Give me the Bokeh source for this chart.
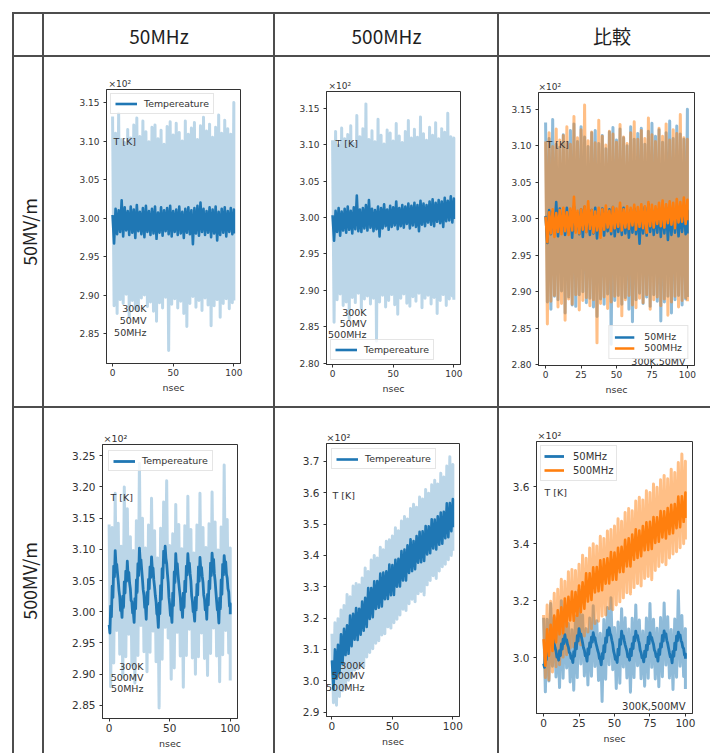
import numpy as np
from bokeh.plotting import figure
from bokeh.layouts import row, column
from bokeh.models import (Range1d, FixedTicker, PrintfTickFormatter, Label,
                          Legend, LegendItem, Spacer)
from bokeh.embed import file_html
from bokeh.resources import INLINE

# ---------------- table texts ----------------
COL_HEADERS = ["50MHz", "500MHz", "比較"]
ROW_HEADERS = ["50MV/m", "500MV/m"]

# ---------------- sample times (nsec) ----------------
NS = np.linspace(0, 100, 41)
NS_FINE = np.linspace(0, 100, 81)

# ---------------- data (temperature, K) ----------------
# A: 50MV/m, 50MHz    (raw = light band envelope, smooth = dark band envelope)
A_LIGHT_HI = [313.2, 311.0, 313.6, 310.2, 309.8, 311.5, 310.4, 312.1, 313.0, 310.6,
              312.6, 311.2, 309.9, 311.8, 312.1, 310.3, 311.4, 309.6, 311.9, 312.5,
              310.8, 312.3, 311.1, 310.0, 312.6, 310.9, 311.7, 312.4, 310.2, 312.0,
              313.1, 311.3, 312.2, 310.5, 311.8, 313.4, 311.0, 312.7, 311.6, 310.9,
              315.0]
A_LIGHT_LO = [288.6, 287.6, 289.4, 288.9, 290.1, 287.1, 289.3, 288.2, 288.0, 289.6,
              290.0, 288.5, 289.1, 287.9, 286.6, 289.0, 288.3, 289.7, 282.8, 288.8,
              289.5, 288.3, 289.2, 287.6, 285.9, 288.9, 289.8, 288.4, 289.3, 288.0,
              289.6, 288.7, 286.0, 288.6, 289.4, 287.1, 288.9, 289.5, 288.2, 289.0,
              289.3]
A_DARK_HI = [300.4, 301.2, 301.0, 302.3, 301.4, 300.9, 301.5, 301.1, 301.7, 300.8,
             301.3, 301.6, 300.9, 301.2, 301.5, 300.7, 301.4, 301.0, 301.3, 301.6,
             300.9, 301.1, 301.5, 300.8, 301.2, 301.4, 301.0, 301.3, 301.6, 302.0,
             301.2, 300.9, 301.4, 301.1, 301.5, 300.8, 301.2, 301.4, 300.9, 301.3,
             301.1]
A_DARK_LO = [296.7, 297.9, 298.2, 297.6, 298.4, 297.8, 298.1, 297.4, 298.3, 297.9,
             297.5, 298.2, 297.8, 298.0, 297.3, 298.1, 297.7, 298.3, 297.9, 297.6,
             298.2, 297.8, 298.0, 297.4, 298.1, 297.9, 296.6, 298.0, 297.7, 298.2,
             297.8, 298.1, 297.5, 298.0, 297.1, 297.8, 298.1, 297.6, 298.2, 297.9,
             298.0]

# B: 50MV/m, 500MHz
B_LIGHT_HI = [310.6, 311.8, 309.9, 312.3, 310.8, 311.4, 312.6, 310.2, 314.0, 311.1,
              312.2, 315.6, 310.7, 311.9, 310.4, 313.5, 311.3, 310.1, 312.0, 311.6,
              310.5, 312.9, 311.2, 310.3, 311.8, 313.3, 310.9, 312.1, 311.0, 313.8,
              311.5, 310.6, 312.4, 311.3, 313.0, 310.8, 312.2, 311.7, 314.3, 311.1,
              310.9]
B_LIGHT_LO = [285.6, 288.7, 289.5, 287.9, 288.4, 286.1, 289.0, 288.3, 289.6, 287.5,
              288.8, 289.2, 288.1, 288.9, 283.0, 288.4, 289.3, 287.7, 288.6, 289.4,
              288.0, 286.7, 288.9, 289.5, 288.2, 287.8, 289.1, 288.5, 289.6, 287.6,
              288.9, 289.3, 288.1, 289.0, 286.8, 288.6, 289.4, 287.9, 288.8, 289.2,
              288.7]
B_DARK_HI = [300.3, 300.9, 301.3, 300.8, 301.2, 301.5, 300.9, 301.4, 303.0, 301.1,
             301.3, 301.7, 302.4, 301.2, 301.0, 301.5, 301.3, 301.8, 301.1, 301.6,
             301.4, 302.2, 301.3, 301.7, 301.5, 301.9, 301.6, 302.0, 301.7, 302.3,
             301.9, 301.7, 302.2, 302.5, 302.0, 302.4, 302.2, 302.7, 302.3, 302.9,
             302.6]
B_DARK_LO = [296.8, 298.0, 297.5, 298.2, 297.9, 298.3, 297.8, 298.4, 298.1, 298.0,
             298.5, 298.2, 298.6, 298.1, 298.4, 297.4, 298.5, 298.8, 298.3, 298.7,
             298.9, 298.4, 298.8, 298.6, 299.1, 298.5, 298.9, 298.7, 298.1, 299.0,
             298.8, 299.3, 299.0, 298.8, 299.4, 299.2, 298.7, 299.5, 299.6, 299.3,
             299.8]

# C: 500MV/m, 50MHz
C_LIGHT_HI = [314.0, 313.5, 319.0, 314.2, 310.5, 320.0, 316.5, 312.0, 309.8, 314.6,
              323.8, 315.0, 310.2, 313.9, 318.2, 313.0, 308.6, 313.4, 317.6, 321.0,
              310.6, 312.5, 317.2, 314.0, 310.1, 313.8, 318.5, 313.2, 309.4, 313.9,
              319.0, 313.5, 310.3, 314.1, 319.2, 314.4, 309.9, 313.6, 323.5, 314.8,
              310.2]
C_LIGHT_LO = [288.0, 291.8, 297.0, 293.2, 289.5, 292.8, 296.4, 291.5, 288.6, 293.0,
              297.8, 293.6, 290.4, 293.5, 296.9, 292.0, 284.6, 292.4, 297.5, 295.8,
              289.2, 291.0, 296.7, 292.9, 287.9, 293.0, 297.2, 292.6, 290.0, 292.8,
              296.6, 292.5, 289.8, 293.3, 297.4, 292.9, 288.8, 293.1, 297.0, 293.4,
              289.0]
C_DARK_HI = [297.9, 300.9, 304.1, 307.3, 309.8, 307.6, 304.9, 302.4, 300.8, 302.5,
             304.8, 306.5, 308.1, 306.3, 303.7, 301.6, 299.9, 302.1, 305.1, 307.7,
             310.2, 308.3, 305.2, 302.6, 300.8, 303.1, 305.2, 307.2, 308.8, 307.0,
             304.0, 301.6, 299.4, 301.4, 304.2, 306.9, 309.7, 310.5, 307.8, 304.7,
             301.1, 299.7, 303.0, 306.4, 309.3, 307.7, 304.6, 302.3, 300.8, 303.0,
             304.9, 307.3, 309.3, 307.8, 304.9, 301.7, 299.9, 302.3, 304.4, 307.2,
             308.7, 307.1, 304.7, 302.0, 301.1, 302.8, 304.9, 307.8, 309.4, 308.4,
             305.0, 301.7, 300.2, 302.2, 305.1, 307.6, 309.0, 308.0, 305.4, 303.2,
             301.3]
C_DARK_LO = [296.6, 299.2, 302.3, 305.6, 307.6, 306.2, 303.4, 300.2, 299.1, 300.7,
             303.0, 304.9, 305.8, 304.6, 301.8, 299.8, 298.3, 300.5, 303.1, 305.8,
             308.2, 306.7, 303.5, 300.7, 298.8, 301.2, 303.7, 305.5, 306.9, 305.1,
             302.6, 299.7, 297.5, 299.7, 302.0, 305.4, 307.9, 308.6, 306.1, 302.3,
             299.4, 298.3, 301.0, 304.7, 307.0, 306.0, 303.4, 300.3, 299.1, 300.7,
             303.2, 305.9, 307.3, 306.1, 302.6, 300.0, 298.5, 300.3, 302.7, 304.9,
             307.0, 305.7, 302.7, 300.3, 298.8, 301.1, 303.7, 305.8, 307.7, 306.1,
             303.3, 300.3, 298.2, 300.5, 302.8, 305.9, 307.6, 306.0, 303.7, 300.9,
             299.6]

# D: 500MV/m, 500MHz
D_LIGHT_HI = [315.0, 318.5, 319.8, 322.6, 324.0, 327.5, 326.8, 330.2, 331.0, 330.6,
              332.8, 336.0, 334.9, 338.5, 340.0, 339.2, 342.6, 341.8, 344.5, 345.0,
              346.2, 348.8, 347.9, 351.0, 352.4, 351.6, 355.0, 356.3, 355.4, 358.6,
              358.0, 361.0, 359.8, 362.5, 364.0, 362.8, 366.2, 365.0, 368.5, 371.5,
              369.0]
D_LIGHT_LO = [293.0, 292.2, 295.0, 296.8, 297.5, 300.2, 301.0, 303.4, 303.8, 305.0,
              304.5, 307.6, 309.0, 310.2, 312.0, 312.8, 314.6, 315.0, 317.2, 316.8,
              318.5, 319.6, 321.0, 322.8, 322.4, 324.6, 326.0, 325.2, 327.8, 328.5,
              327.4, 330.6, 332.0, 333.5, 332.6, 335.0, 336.4, 337.2, 338.6, 340.0,
              341.5]
D_DARK_HI = [306.5, 310.0, 311.5, 314.8, 316.6, 317.7, 320.8, 321.4, 323.2, 323.0,
             325.3, 326.5, 329.6, 329.6, 331.7, 331.8, 334.2, 334.5, 334.9, 337.1,
             336.9, 338.6, 338.9, 341.4, 341.9, 343.2, 345.1, 344.6, 346.2, 347.5,
             347.7, 349.4, 349.3, 351.5, 351.4, 352.5, 353.7, 353.9, 356.6, 356.7,
             358.0]
D_DARK_LO = [297.2, 300.7, 302.4, 305.4, 308.2, 308.6, 311.0, 313.1, 313.0, 314.7,
             316.0, 317.2, 319.7, 320.3, 322.9, 323.3, 323.7, 326.0, 326.1, 327.3,
             327.4, 330.0, 330.1, 332.0, 332.0, 334.4, 335.0, 335.6, 337.7, 337.8,
             338.2, 340.3, 340.7, 342.2, 341.9, 343.4, 343.7, 345.5, 345.8, 347.7,
             349.0]

# ---------------- axis ticks (in units of 10^2 K) ----------------
X_TICKS_3 = [0, 50, 100]
X_TICKS_5 = [0, 25, 50, 75, 100]
Y_TICKS_P1 = [2.85, 2.90, 2.95, 3.00, 3.05, 3.10, 3.15]
Y_TICKS_P2 = [2.80, 2.85, 2.90, 2.95, 3.00, 3.05, 3.10, 3.15]
Y_TICKS_P4 = [2.85, 2.90, 2.95, 3.00, 3.05, 3.10, 3.15, 3.20, 3.25]
Y_TICKS_P5 = [2.9, 3.0, 3.1, 3.2, 3.3, 3.4, 3.5, 3.6, 3.7]
Y_TICKS_P6 = [3.0, 3.2, 3.4, 3.6]

BLUE = "#1f77b4"
ORANGE = "#ff7f0e"
TXT = "#333333"
FONT = "DejaVu Sans"
CJK = "Noto Sans CJK JP"
WHITE = {"background-color": "white"}


def zig(x, hi, lo):
    """Noisy trace drawn as a zig-zag between its read-off upper and lower envelopes."""
    x = np.asarray(x, dtype=float)
    half = (x[1] - x[0]) / 2.0
    xs = np.empty(2 * len(x))
    ys = np.empty(2 * len(x))
    xs[0::2] = x
    xs[1::2] = np.minimum(x + half, x[-1])
    ys[0::2] = np.asarray(hi, dtype=float) / 100.0
    ys[1::2] = np.asarray(lo, dtype=float) / 100.0
    return xs, ys


def make_panel(w, h, mb, xr, yr, xticks, yticks, yfmt, tick_fs, off_fs, off_dx):
    p = figure(width=w, height=h, x_range=Range1d(*xr), y_range=Range1d(*yr),
               output_backend="svg", toolbar_location=None, title="×10²",
               min_border_left=mb[0], min_border_right=mb[1],
               min_border_top=mb[2], min_border_bottom=mb[3])
    p.title.text_font = FONT
    p.title.text_font_size = off_fs
    p.title.text_font_style = "normal"
    p.title.text_color = TXT
    p.title.align = "left"
    p.title.offset = off_dx
    p.title.standoff = 1
    p.grid.visible = False
    p.outline_line_color = "#333333"
    p.outline_line_width = 1
    p.background_fill_color = "white"
    p.border_fill_color = "white"
    p.xaxis.ticker = FixedTicker(ticks=xticks)
    p.yaxis.ticker = FixedTicker(ticks=yticks)
    p.yaxis.formatter = PrintfTickFormatter(format=yfmt)
    for ax in (p.xaxis[0], p.yaxis[0]):
        ax.axis_line_color = "#333333"
        ax.major_tick_line_color = "#333333"
        ax.major_tick_out = 3
        ax.major_tick_in = 0
        ax.minor_tick_line_color = None
        ax.major_label_text_font = FONT
        ax.major_label_text_font_size = tick_fs
        ax.major_label_text_color = TXT
    p.yaxis.major_label_standoff = 4
    p.xaxis.major_label_standoff = 2
    p.xaxis.axis_label = "nsec"
    p.xaxis.axis_label_text_font = FONT
    p.xaxis.axis_label_text_font_size = "9.5px"
    p.xaxis.axis_label_text_font_style = "normal"
    p.xaxis.axis_label_text_color = TXT
    p.xaxis.axis_label_standoff = 3
    return p


def note(p, text, xr, yr, corner, dx, dy, align="left", baseline="middle", fs="9.5px"):
    x = xr[0] if corner[0] == "l" else xr[1]
    y = yr[1] if corner[1] == "t" else yr[0]
    p.add_layout(Label(x=x, y=y, x_offset=dx, y_offset=dy, text=text,
                       text_align=align, text_baseline=baseline,
                       text_font=FONT, text_font_size=fs, text_color=TXT))


def legend(p, items, loc, margin, padding, gw, lh, standoff, fs):
    leg = Legend(items=[LegendItem(label=l, renderers=[r]) for l, r in items],
                 location=loc, margin=margin, padding=padding, spacing=0,
                 glyph_width=gw, glyph_height=lh, label_height=lh,
                 label_standoff=standoff, label_text_font=FONT,
                 label_text_font_size=fs, label_text_color=TXT,
                 border_line_color="#cccccc", border_line_width=1,
                 background_fill_color="white", background_fill_alpha=0.8)
    p.add_layout(leg)


def band(p, x, hi, lo, color, alpha, width):
    xs, ys = zig(x, hi, lo)
    return p.line(xs, ys, line_color=color, line_alpha=alpha, line_width=width,
                  line_join="round")


LW_LIGHT, LW_DARK, LW_FINE = 3.0, 2.6, 2.8

# ---------------- panel 1 : 50MV/m, 50MHz ----------------
xr1, yr1 = (-5.0, 105.5), (2.811, 3.167)
p1 = make_panel(229, 349, (62, 33, 32, 43), xr1, yr1, X_TICKS_3, Y_TICKS_P1, "%.2f", "9px", "9px", 2)
band(p1, NS, A_LIGHT_HI, A_LIGHT_LO, BLUE, 0.3, LW_LIGHT)
r1 = band(p1, NS, A_DARK_HI, A_DARK_LO, BLUE, 1.0, LW_DARK)
note(p1, "T [K]", xr1, yr1, "lt", 7, -52)
note(p1, "300K", xr1, yr1, "lt", 40, -219, align="right")
note(p1, "50MV", xr1, yr1, "lt", 40, -231, align="right")
note(p1, "50MHz", xr1, yr1, "lt", 40, -243, align="right")
legend(p1, [("Tempereature", r1)], "top_left", 4, 4, 22, 11, 7, "9.4px")

# ---------------- panel 2 : 50MV/m, 500MHz ----------------
xr2, yr2 = (-5.0, 105.5), (2.798, 3.173)
p2 = make_panel(222, 349, (51, 37, 34, 42), xr2, yr2, X_TICKS_3, Y_TICKS_P2, "%.2f", "9px", "9px", 2)
band(p2, NS, B_LIGHT_HI, B_LIGHT_LO, BLUE, 0.3, LW_LIGHT)
r2 = band(p2, NS, B_DARK_HI, B_DARK_LO, BLUE, 1.0, LW_DARK)
note(p2, "T [K]", xr2, yr2, "lt", 9, -52)
note(p2, "300K", xr2, yr2, "lt", 40, -221, align="right")
note(p2, "50MV", xr2, yr2, "lt", 40, -232, align="right")
note(p2, "500MHz", xr2, yr2, "lt", 40, -243, align="right")
legend(p2, [("Tempereature", r2)], "bottom_left", 4, 4, 22, 11, 7, "9.4px")

# ---------------- panel 3 : comparison, 50MV/m ----------------
xr3, yr3 = (-5.0, 105.0), (2.799, 3.173)
p3 = make_panel(211, 349, (39, 16, 35, 41), xr3, yr3, X_TICKS_5, Y_TICKS_P2, "%.2f", "9px", "9px", 0)
band(p3, NS, A_LIGHT_HI, A_LIGHT_LO, BLUE, 0.5, LW_LIGHT)
band(p3, NS, B_LIGHT_HI, B_LIGHT_LO, ORANGE, 0.5, LW_LIGHT)
r3a = band(p3, NS, A_DARK_HI, A_DARK_LO, BLUE, 1.0, LW_DARK)
r3b = band(p3, NS, B_DARK_HI, B_DARK_LO, ORANGE, 1.0, LW_DARK)
note(p3, "T [K]", xr3, yr3, "lt", 8, -52)
note(p3, "300K,50MV", xr3, yr3, "rb", -9, 4, align="right")
legend(p3, [("50MHz", r3a), ("500MHz", r3b)], "bottom_right", 6, 5, 20, 10, 10, "9.3px")

# ---------------- panel 4 : 500MV/m, 50MHz ----------------
xr4, yr4 = (-5.5, 106.0), (2.829, 3.268)
p4 = make_panel(229, 345, (58, 36, 36, 35), xr4, yr4, X_TICKS_3, Y_TICKS_P4, "%.2f", "10.5px", "9.5px", 1)
band(p4, NS, C_LIGHT_HI, C_LIGHT_LO, BLUE, 0.3, LW_LIGHT)
r4 = band(p4, NS_FINE, C_DARK_HI, C_DARK_LO, BLUE, 1.0, LW_FINE)
note(p4, "T [K]", xr4, yr4, "lt", 8, -53)
note(p4, "300K", xr4, yr4, "lt", 41, -222, align="right")
note(p4, "500MV", xr4, yr4, "lt", 41, -233, align="right")
note(p4, "50MHz", xr4, yr4, "lt", 41, -244, align="right")
legend(p4, [("Tempereature", r4)], "top_left", 6, 4, 22, 10, 7, "9.5px")

# ---------------- panel 5 : 500MV/m, 500MHz ----------------
xr5, yr5 = (-4.5, 105.5), (2.886, 3.757)
p5 = make_panel(222, 345, (51, 38, 35, 37), xr5, yr5, X_TICKS_3, Y_TICKS_P5, "%.1f", "10.5px", "9.5px", 0)
band(p5, NS, D_LIGHT_HI, D_LIGHT_LO, BLUE, 0.3, LW_LIGHT)
r5 = band(p5, NS, D_DARK_HI, D_DARK_LO, BLUE, 1.0, LW_DARK)
note(p5, "T [K]", xr5, yr5, "lt", 6, -52)
note(p5, "300K", xr5, yr5, "lt", 38, -222, align="right")
note(p5, "500MV", xr5, yr5, "lt", 38, -232, align="right")
note(p5, "500MHz", xr5, yr5, "lt", 38, -244, align="right")
legend(p5, [("Tempereature", r5)], "top_left", 5, 4, 22, 10, 7, "9.5px")

# ---------------- panel 6 : comparison, 500MV/m ----------------
xr6, yr6 = (-5.0, 105.0), (2.804, 3.759)
p6 = make_panel(211, 345, (37, 18, 33, 40), xr6, yr6, X_TICKS_5, Y_TICKS_P6, "%.1f", "10.5px", "9.5px", 1)
band(p6, NS, C_LIGHT_HI, C_LIGHT_LO, BLUE, 0.5, LW_LIGHT)
band(p6, NS, D_LIGHT_HI, D_LIGHT_LO, ORANGE, 0.5, LW_LIGHT)
r6a = band(p6, NS_FINE, C_DARK_HI, C_DARK_LO, BLUE, 1.0, LW_FINE)
r6b = band(p6, NS, D_DARK_HI, D_DARK_LO, ORANGE, 1.0, LW_DARK)
note(p6, "T [K]", xr6, yr6, "lt", 8, -51)
note(p6, "300K,500MV", xr6, yr6, "rb", -7, 7, align="right", fs="10px")
legend(p6, [("50MHz", r6a), ("500MHz", r6b)], "top_left", 4, 3, 20, 14, 9, "10px")


# ---------------- table cells ----------------
def text_cell(w, h, txt, dx=0, angle=0.0, fs="19px"):
    p = figure(width=w, height=h, x_range=Range1d(0, w), y_range=Range1d(0, h),
               output_backend="svg", toolbar_location=None, min_border=0,
               x_axis_type=None, y_axis_type=None)
    p.outline_line_color = None
    p.background_fill_color = "white"
    p.border_fill_color = "white"
    if txt:
        p.add_layout(Label(x=w / 2 + dx, y=h / 2, text=txt, angle=angle,
                           text_align="center", text_baseline="middle",
                           text_font=CJK, text_font_size=fs, text_color="#1e1e1e"))
    return column([p], styles=WHITE)


def cell(p):
    return column([p], styles=WHITE)


LINE_BG = {"background-color": "#4d4d4d"}
hdr = row([Spacer(width=0, height=41), text_cell(28, 41, ""),
           text_cell(229, 41, COL_HEADERS[0]), text_cell(222, 41, COL_HEADERS[1]),
           text_cell(211, 41, COL_HEADERS[2], dx=7)], spacing=2)
row1 = row([Spacer(width=0, height=349), text_cell(28, 349, ROW_HEADERS[0], angle=np.pi / 2, fs="18px"),
            cell(p1), cell(p2), cell(p3)], spacing=2)
row2 = row([Spacer(width=0, height=345), text_cell(28, 345, ROW_HEADERS[1], angle=np.pi / 2, fs="18px"),
            cell(p4), cell(p5), cell(p6)], spacing=2)
table = column([Spacer(width=698, height=0), hdr, row1, row2], spacing=2, styles=LINE_BG)
root = column([Spacer(width=710, height=12), row([Spacer(width=12, height=741), table])])

open("out.html", "w").write(file_html(root, INLINE))
